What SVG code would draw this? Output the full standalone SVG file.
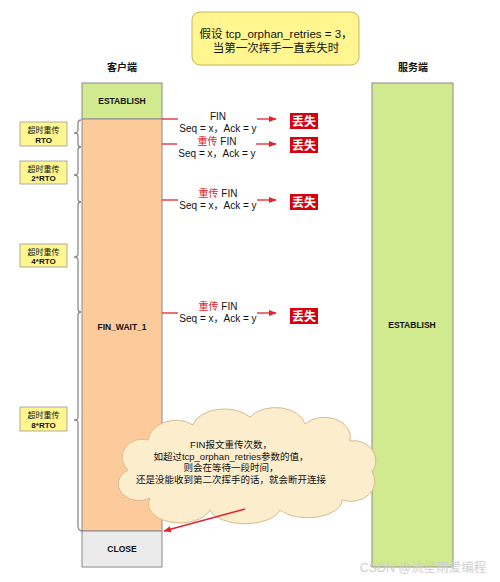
<svg xmlns="http://www.w3.org/2000/svg" width="500" height="582" viewBox="0 0 500 582">
<style>
text{font-family:"Liberation Sans","Noto Sans CJK SC",sans-serif;fill:#111;text-anchor:middle}
.st{font-size:8.5px;font-weight:bold}
.hd{font-size:10px;font-weight:bold}
.lb{font-size:8px}
.lbb{font-size:8px;font-weight:bold}
.msg{font-size:10px}
.red{fill:#e0242a}
.lost{fill:#d7000f}
.lost-t{font-size:12px;font-weight:bold;fill:#fff}
.arr{stroke:#e0242a;stroke-width:1.3;fill:none}
.brace{stroke:#8a8a8a;stroke-width:1.3;fill:none}
.box{stroke:#8a8a8a;stroke-width:1}
.note{font-size:9.5px}
</style>
<defs>
<marker id="ah" viewBox="0 0 10 10" refX="9" refY="5" markerWidth="6" markerHeight="6" orient="auto">
<path d="M0,1 L10,5 L0,9 Z" fill="#e0242a"/>
</marker>
</defs>
<rect width="500" height="582" fill="#fff"/>

<g id="title">
<rect x="192" y="12" width="167" height="53" rx="8" fill="#fff68f" stroke="#c9b560" stroke-width="1"/>
<text x="276" y="38" style="font-size:11.5px">假设 tcp_orphan_retries = 3，</text>
<text x="276" y="52" style="font-size:11.5px">当第一次挥手一直丢失时</text>
</g>

<g id="client-label"><text class="hd" x="122" y="71">客户端</text></g>
<g id="server-label"><text class="hd" x="413" y="71">服务端</text></g>

<g id="client-establish">
<rect class="box" x="82" y="83" width="80" height="36" fill="#d1e98f"/>
<text class="st" x="122" y="104">ESTABLISH</text>
</g>
<g id="client-finwait">
<rect class="box" x="82" y="119" width="80" height="412" fill="#fdca9b"/>
<text class="st" x="122" y="330">FIN_WAIT_1</text>
</g>
<g id="client-close">
<rect class="box" x="82" y="531" width="80" height="36" fill="#ebebeb"/>
<text class="st" x="122" y="552">CLOSE</text>
</g>
<g id="server-establish">
<rect class="box" x="372" y="83" width="81" height="484" fill="#d1e98f"/>
<text class="st" x="412" y="328">ESTABLISH</text>
</g>

<g id="rto1">
<rect x="20" y="122" width="47" height="24" fill="#fff68f" stroke="#999" stroke-width="0.8"/>
<text class="lb" x="43.5" y="133">超时重传</text>
<text class="lbb" x="43.5" y="143">RTO</text>
</g>
<g id="rto2">
<rect x="20" y="161" width="47" height="23" fill="#fff68f" stroke="#999" stroke-width="0.8"/>
<text class="lb" x="43.5" y="172">超时重传</text>
<text class="lbb" x="43.5" y="181">2*RTO</text>
</g>
<g id="rto3">
<rect x="20" y="244" width="47" height="23" fill="#fff68f" stroke="#999" stroke-width="0.8"/>
<text class="lb" x="43.5" y="255">超时重传</text>
<text class="lbb" x="43.5" y="264">4*RTO</text>
</g>
<g id="rto4">
<rect x="20" y="407" width="47" height="24" fill="#fff68f" stroke="#999" stroke-width="0.8"/>
<text class="lb" x="43.5" y="418">超时重传</text>
<text class="lbb" x="43.5" y="428">8*RTO</text>
</g>

<g id="lost1"><rect class="lost" x="290" y="113" width="28" height="16"/><text class="lost-t" x="304" y="125.5">丢失</text></g>
<g id="lost2"><rect class="lost" x="290" y="137" width="28" height="16"/><text class="lost-t" x="304" y="149.5">丢失</text></g>
<g id="lost3"><rect class="lost" x="290" y="194" width="28" height="16"/><text class="lost-t" x="304" y="206.5">丢失</text></g>
<g id="lost4"><rect class="lost" x="290" y="308" width="28" height="16"/><text class="lost-t" x="304" y="320.5">丢失</text></g>

<g id="cloud">
<path d="M128,470 A20,18 0 0 1 148,440 A28,22 0 0 1 193,425 A32,20 0 0 1 250,417 A30,20 0 0 1 305,424 A26,20 0 0 1 350,441 A22,20 0 0 1 372,472 A24,20 0 0 1 342,500 A34,18 0 0 1 280,510 A36,18 0 0 1 210,510 A30,18 0 0 1 150,498 A20,16 0 0 1 128,470 Z" fill="#fcedcc" stroke="#d9bb8c" stroke-width="1"/>
<text class="note" x="231" y="448">FIN报文重传次数，</text>
<text class="note" x="231" y="460">如超过tcp_orphan_retries参数的值，</text>
<text class="note" x="231" y="471">则会在等待一段时间，</text>
<text class="note" x="231" y="483">还是没能收到第二次挥手的话，就会断开连接</text>
</g>

<g id="connectors">
<path class="brace" d="M81,120 Q78,120 78,123 L78,130 Q78,133 74,133 Q78,133 78,136 L78,144 Q78,147 81,147"/>
<path class="brace" d="M81,147 Q78,147 78,150 L78,172 Q78,175 74,175 Q78,175 78,178 L78,199 Q78,202 81,202"/>
<path class="brace" d="M81,202 Q78,202 78,205 L78,254 Q78,257 74,257 Q78,257 78,260 L78,309 Q78,312 81,312"/>
<path class="brace" d="M81,312 Q78,312 78,315 L78,417 Q78,420 74,420 Q78,420 78,423 L78,526 Q78,531 83,531"/>

<line class="arr" x1="162" y1="119" x2="178" y2="119"/>
<line class="arr" x1="257" y1="119" x2="276" y2="119" marker-end="url(#ah)"/>
<line class="arr" x1="162" y1="144" x2="177" y2="144"/>
<line class="arr" x1="256" y1="144" x2="276" y2="144" marker-end="url(#ah)"/>
<line class="arr" x1="162" y1="200" x2="178" y2="200"/>
<line class="arr" x1="257" y1="200" x2="276" y2="200" marker-end="url(#ah)"/>
<line class="arr" x1="162" y1="313" x2="178" y2="313"/>
<line class="arr" x1="257" y1="313" x2="276" y2="313" marker-end="url(#ah)"/>
<line class="arr" x1="245" y1="509" x2="164" y2="531" marker-end="url(#ah)"/>
</g>

<g id="msg1">
<text class="msg" x="218" y="120">FIN</text>
<text class="msg" x="218" y="132">Seq = x，Ack = y</text>
</g>
<g id="msg2">
<text class="msg" x="217" y="145"><tspan class="red">重传</tspan> FIN</text>
<text class="msg" x="217" y="157">Seq = x，Ack = y</text>
</g>
<g id="msg3">
<text class="msg" x="218" y="197"><tspan class="red">重传</tspan> FIN</text>
<text class="msg" x="218" y="209">Seq = x，Ack = y</text>
</g>
<g id="msg4">
<text class="msg" x="218" y="310"><tspan class="red">重传</tspan> FIN</text>
<text class="msg" x="218" y="322">Seq = x，Ack = y</text>
</g>

<g id="watermark">
<text x="423" y="572" style="font-size:12.5px;fill:#cfcfcf">CSDN @流星雨爱编程</text>
</g>
</svg>
